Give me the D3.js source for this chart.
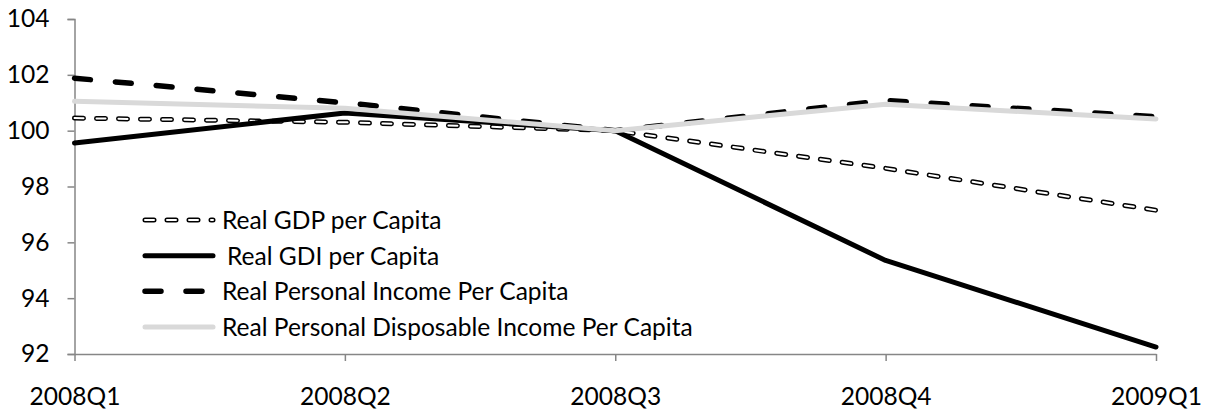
<!DOCTYPE html>
<html>
<head>
<meta charset="utf-8">
<script src="https://cdn.jsdelivr.net/npm/d3@7"></script>
<style>
  html, body { margin: 0; padding: 0; background: #fff; }
  svg { display: block; }
  text { font-family: Lato, "Open Sans", sans-serif; fill: #000; }
</style>
</head>
<body>
<svg id="chart" width="1206" height="410"></svg>
<script>
const categories = ["2008Q1", "2008Q2", "2008Q3", "2008Q4", "2009Q1"];
const realGDP   = [100.45, 100.3, 100.0, 98.65, 97.15];
const realGDI   = [99.56, 100.63, 100.0, 95.35, 92.25];
const realPI    = [101.88, 101.0, 100.0, 101.08, 100.5];
const realPDI   = [101.05, 100.8, 100.0, 100.95, 100.42];
const yTicks    = [92, 94, 96, 98, 100, 102, 104];
const seriesNames = [
  "Real GDP per Capita",
  " Real GDI per Capita",
  "Real Personal Income Per Capita",
  "Real Personal Disposable Income Per Capita"
];

const svg = d3.select("#chart");
const x = d3.scalePoint().domain(categories).range([74.5, 1156]);
const y = d3.scaleLinear().domain([92, 104]).range([354, 19]);

const axisColor = "#868686";

// measure font size so that the longest legend entry spans ~471px
const probe = svg.append("text").style("font-size", "22px").text(seriesNames[3]);
const probeLen = probe.node().getComputedTextLength();
probe.remove();
let fs = 22 * 471 / (probeLen || 471);
fs = Math.max(18, Math.min(28, fs));
const fsPx = fs.toFixed(2) + "px";

// Y axis
const yAxis = svg.append("g").attr("transform", "translate(74.5,0)")
  .call(d3.axisLeft(y).tickValues(yTicks).tickSize(7).tickPadding(18).tickFormat(d3.format("d")));
yAxis.select(".domain").attr("stroke", axisColor).attr("stroke-width", 1.5);
yAxis.selectAll(".tick line").attr("stroke", axisColor).attr("stroke-width", 1.5);
yAxis.selectAll(".tick text").style("font-size", fsPx).attr("fill", "#000");

// X axis
const xAxis = svg.append("g").attr("transform", "translate(0,354)")
  .call(d3.axisBottom(x).tickSize(7).tickPadding(27).tickSizeOuter(0));
xAxis.select(".domain").attr("stroke", axisColor).attr("stroke-width", 1.5);
xAxis.selectAll(".tick line").attr("stroke", axisColor).attr("stroke-width", 1.5);
xAxis.selectAll(".tick text").style("font-size", fsPx).attr("fill", "#000").attr("dy", "0.68em");

const line = d3.line().x((d, i) => x(categories[i])).y(d => y(d));

const styles = [
  [{stroke: "#000", width: 5, dash: "9,13", cap: "round"}, {stroke: "#fff", width: 2, dash: "9,13", cap: "round"}],
  [{stroke: "#000", width: 5, dash: null, cap: "round"}],
  [{stroke: "#000", width: 5.5, dash: "16,25", cap: "round"}],
  [{stroke: "#d9d9d9", width: 5, dash: null, cap: "round"}]
];
const allSeries = [realGDP, realGDI, realPI, realPDI];

const plot = svg.append("g");
allSeries.forEach((s, i) => {
  styles[i].forEach(st => {
    plot.append("path").datum(s).attr("d", line)
      .attr("fill", "none").attr("stroke", st.stroke)
      .attr("stroke-width", st.width).attr("stroke-linecap", st.cap)
      .attr("stroke-linejoin", "round")
      .attr("stroke-dasharray", st.dash);
  });
});

// Legend
const legend = svg.append("g");
const legY = d3.scaleLinear().domain([0, 3]).range([220, 327]);
seriesNames.forEach((name, i) => {
  const g = legend.append("g");
  styles[i].forEach(st => {
    g.append("line").attr("x1", 145).attr("x2", 213)
      .attr("y1", legY(i)).attr("y2", legY(i))
      .attr("stroke", st.stroke).attr("stroke-width", st.width)
      .attr("stroke-linecap", st.cap).attr("stroke-dasharray", st.dash);
  });
  g.append("text").attr("x", name.startsWith(" ") ? 227 : 222).attr("y", legY(i))
    .attr("dy", "0.36em").style("font-size", fsPx).text(name.trim());
});
</script>
</body>
</html>
